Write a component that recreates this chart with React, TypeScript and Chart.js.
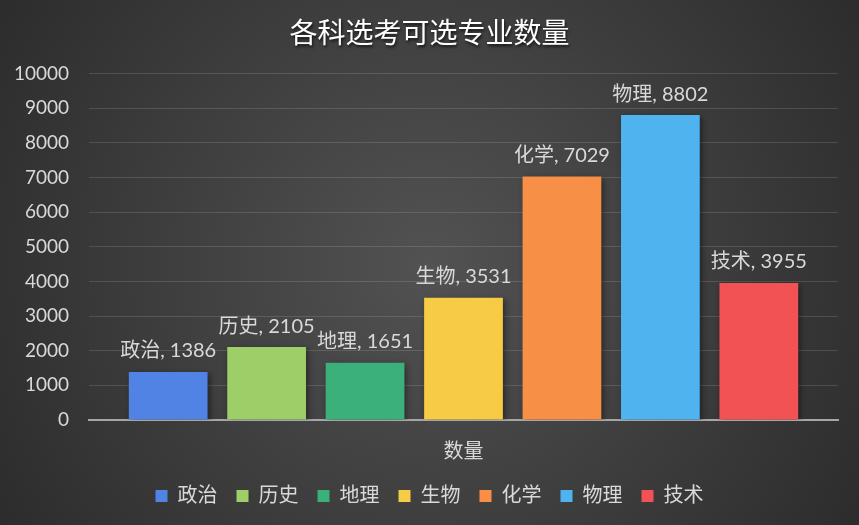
import React, { useEffect, useRef } from "react";
import { Chart, registerables } from "chart.js";

Chart.register(...registerables);

const categories = ["数量"];
const subjects = ["政治", "历史", "地理", "生物", "化学", "物理", "技术"];
const values = [1386, 2105, 1651, 3531, 7029, 8802, 3955];
const colors = ["#5183E4", "#9DCE68", "#3BB07A", "#F8CB47", "#F88F47", "#4FB3F0", "#F25254"];
const yTicks = [0, 1000, 2000, 3000, 4000, 5000, 6000, 7000, 8000, 9000, 10000];
const title = "各科选考可选专业数量";

const TEXT = "#d9d9d9";
const FONT = "Lato, 'Noto Sans CJK SC', sans-serif";
const TITLE_FONT = "400 28px 'Noto Sans CJK SC', sans-serif";

export default function App() {
  const ref = useRef<HTMLCanvasElement | null>(null);

  useEffect(() => {
    document.body.style.margin = "0";
    const canvas = ref.current;
    if (!canvas) return;

    const bgPlugin = {
      id: "bg",
      beforeDraw(chart: any) {
        const { ctx, width, height } = chart;
        ctx.save();
        const g = ctx.createRadialGradient(width / 2, height / 2, 0, width / 2, height / 2, Math.max(width, height) * 0.62);
        g.addColorStop(0, "#525252");
        g.addColorStop(1, "#2a2a2a");
        ctx.fillStyle = g;
        ctx.fillRect(0, 0, width, height);
        ctx.restore();
      },
      afterDraw(chart: any) {
        const { ctx, width } = chart;
        ctx.save();
        ctx.font = TITLE_FONT;
        ctx.fillStyle = "#ffffff";
        ctx.textAlign = "center";
        ctx.textBaseline = "middle";
        ctx.shadowColor = "rgba(0,0,0,0.7)";
        ctx.shadowBlur = 3;
        ctx.shadowOffsetX = 1;
        ctx.shadowOffsetY = 2;
        ctx.fillText(title, width / 2, 32);
        ctx.restore();
      },
    };

    const labelPlugin = {
      id: "labels",
      beforeDatasetsDraw(chart: any) {
        const ctx = chart.ctx;
        ctx.save();
        ctx.shadowColor = "rgba(0,0,0,0.45)";
        ctx.shadowBlur = 6;
        ctx.shadowOffsetX = 2;
        ctx.shadowOffsetY = 2;
      },
      afterDatasetsDraw(chart: any) {
        const ctx = chart.ctx;
        ctx.restore();
        ctx.save();
        ctx.font = `20px ${FONT}`;
        ctx.fillStyle = TEXT;
        ctx.textAlign = "center";
        ctx.textBaseline = "middle";
        chart.data.datasets.forEach((ds: any, i: number) => {
          const meta = chart.getDatasetMeta(i);
          meta.data.forEach((bar: any, j: number) => {
            ctx.fillText(`${ds.label}, ${ds.data[j]}`, bar.x, bar.y - 21);
          });
        });
        ctx.restore();
      },
    };

    const chart = new Chart(canvas, {
      type: "bar",
      data: {
        labels: categories,
        datasets: subjects.map((s, i) => ({
          label: s,
          data: [values[i]],
          backgroundColor: colors[i],
          borderWidth: 0,
        })),
      },
      options: {
        responsive: false,
        animation: false,
        layout: { padding: { left: 0, right: 0, top: 0, bottom: 9 } },
        datasets: { bar: { categoryPercentage: 0.92, barPercentage: 0.8 } } as any,
        plugins: {
          title: {
            display: true,
            text: title,
            color: "rgba(0,0,0,0)",
            font: { family: "'Noto Sans CJK SC', sans-serif", size: 28, weight: "500" as any },
            padding: { top: 10, bottom: 30 },
          },
          legend: {
            position: "bottom",
            labels: {
              color: TEXT,
              boxWidth: 12,
              boxHeight: 12,
              font: { family: FONT, size: 20 },
              padding: 19,
            },
          },
          tooltip: { enabled: false },
        },
        scales: {
          x: {
            grid: { display: false },
            border: { color: "#a6a6a6", width: 2 },
            ticks: { color: TEXT, font: { family: FONT, size: 20 }, padding: 12 },
            afterFit(axis: any) {
              axis.height -= 9;
            },
          },
          y: {
            min: 0,
            max: 10000,
            afterBuildTicks(axis: any) {
              axis.ticks = yTicks.map((v) => ({ value: v }));
            },
            afterFit(axis: any) {
              axis.width = 89;
            },
            grid: { color: "rgba(255,255,255,0.13)", drawTicks: false },
            border: { display: false },
            ticks: {
              color: TEXT,
              font: { family: FONT, size: 19 },
              padding: 20,
              callback: (v: any) => String(v),
            },
          },
          yRight: {
            position: "right",
            min: 0,
            max: 10000,
            grid: { display: false },
            border: { display: false },
            ticks: { display: false },
            afterFit(axis: any) {
              axis.width = 21;
            },
          },
        },
      },
      plugins: [bgPlugin, labelPlugin],
    });

    return () => chart.destroy();
  }, []);

  return (
    <div style={{ width: 859, height: 525 }}>
      <canvas ref={ref} width={859} height={525} style={{ display: "block" }} />
    </div>
  );
}
